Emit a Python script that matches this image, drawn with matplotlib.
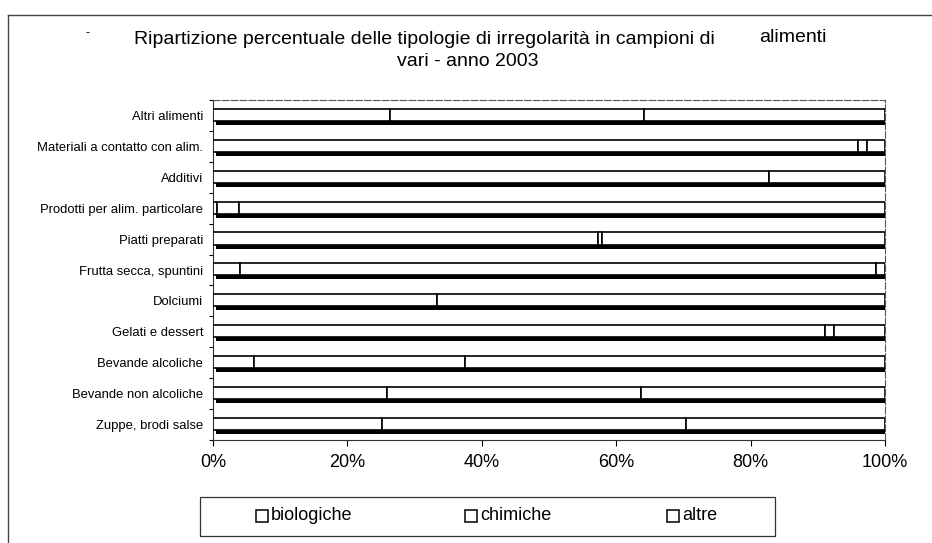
import matplotlib
matplotlib.use("Agg")
import matplotlib.pyplot as plt
import numpy as np
from matplotlib.patches import Rectangle

plt.rcParams['font.family'] = ['Liberation Sans', 'DejaVu Sans']

categories = ["Altri alimenti", "Materiali a contatto con alim.", "Additivi",
              "Prodotti per alim. particolare", "Piatti preparati",
              "Frutta secca, spuntini", "Dolciumi", "Gelati e dessert",
              "Bevande alcoliche", "Bevande non alcoliche", "Zuppe, brodi salse"]
biologiche = [26.4, 96.0, 82.8, 0.6, 57.3, 4.0, 33.3, 91.0, 6.1, 25.9, 25.2]
chimiche   = [37.8, 1.3, 0.0, 3.3, 0.6, 94.7, 0.0, 1.4, 31.4, 37.8, 45.2]
altre      = [35.8, 2.7, 17.2, 96.1, 42.1, 1.3, 66.7, 7.6, 62.5, 36.3, 29.6]
series_names = ["biologiche", "chimiche", "altre"]
x_ticks = [0, 20, 40, 60, 80, 100]
x_ticklabels = ["0%", "20%", "40%", "60%", "80%", "100%"]

W, H = 932, 543
fig = plt.figure(figsize=(W/100, H/100), dpi=100)
ax = fig.add_axes([213/W, 1-440/H, (885-213)/W, 340/H])

n = len(categories)
ypos = np.arange(n)[::-1]
b = np.array(biologiche); c = np.array(chimiche); a = np.array(altre)
tot = b + c + a
bio_p = b / tot * 100; chi_p = c / tot * 100; alt_p = a / tot * 100

h = 0.39
up = 0.02
# shadow (3D depth)
ax.barh(ypos + up - 0.13, bio_p + chi_p + alt_p, left=0.5, height=h,
        color='black', edgecolor='black', linewidth=0, zorder=2)
lefts = np.zeros(n)
for vals in (bio_p, chi_p, alt_p):
    ax.barh(ypos + up, vals, left=lefts, height=h, color='white',
            edgecolor='black', linewidth=1.2, zorder=3)
    lefts = lefts + vals

ax.set_xlim(0, 100)
ax.set_ylim(-0.5, n - 0.5)
ax.set_xticks(x_ticks)
ax.set_xticklabels(x_ticklabels, fontsize=13)
ax.tick_params(axis='x', direction='out', length=4, pad=6, width=0.8)
ax.set_yticks(ypos)
ax.set_yticklabels(categories, fontsize=9.4)
ax.tick_params(axis='y', length=0, pad=7)
ax.set_yticks(np.arange(n + 1) - 0.5, minor=True)
ax.tick_params(axis='y', which='minor', length=3, direction='out', width=0.8)

for s in ('left', 'bottom'):
    ax.spines[s].set_linewidth(0.8)
    ax.spines[s].set_color('#333333')
for s in ('top', 'right'):
    ax.spines[s].set_linewidth(0.8)
    ax.spines[s].set_color('#555555')
    ax.spines[s].set_linestyle((0, (6, 2)))

fig.text(424/W, 1-39/H,
         "Ripartizione percentuale delle tipologie di irregolarità in campioni di",
         ha='center', va='center', fontsize=14)
fig.text(793/W, 1-38/H, "alimenti", ha='center', va='center', fontsize=14)
fig.text(468/W, 1-62/H, "vari - anno 2003", ha='center', va='center', fontsize=14)
fig.text(88/W, 1-33/H, "-", ha='center', va='center', fontsize=9)

# outer frame
fig.add_artist(plt.Line2D([8/W, 8/W], [0, 1-15/H], transform=fig.transFigure,
                          color='#444444', linewidth=1))
fig.add_artist(plt.Line2D([8/W, 1], [1-15/H, 1-15/H], transform=fig.transFigure,
                          color='#444444', linewidth=1))

# legend (drawn as in the scanned original)
fig.add_artist(Rectangle((200/W, 1-536/H), 575/W, 39/H, transform=fig.transFigure,
                         facecolor='white', edgecolor='#333333', linewidth=0.9))
leg_x = [256, 465, 667]
for x0, name in zip(leg_x, series_names):
    fig.add_artist(Rectangle((x0/W, 1-522/H), 12/W, 12/H, transform=fig.transFigure,
                             facecolor='white', edgecolor='black', linewidth=1.1))
    fig.text((x0 + 15)/W, 1-515/H, name, ha='left', va='center', fontsize=13)

fig.savefig("out.png", dpi=100)
